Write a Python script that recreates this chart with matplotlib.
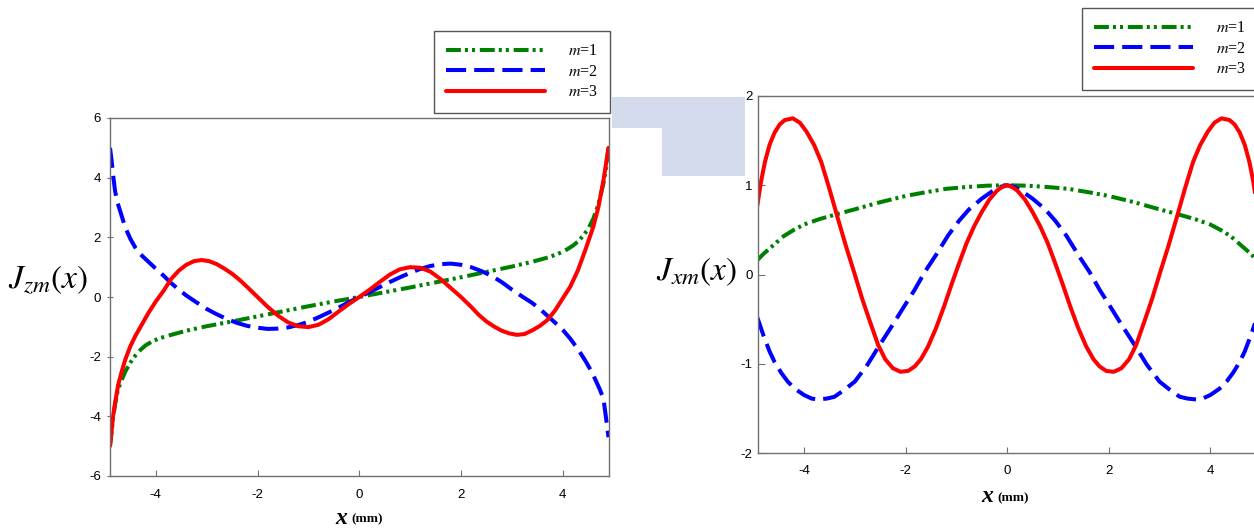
import numpy as np
import matplotlib
matplotlib.use('Agg')
import matplotlib.pyplot as plt
from matplotlib.patches import Polygon

plt.rcParams['font.family'] = ['Liberation Sans', 'DejaVu Sans']
plt.rcParams['mathtext.fontset'] = 'stix'
plt.rcParams['axes.unicode_minus'] = False

############### DATA ###############
# left panel: J_zm(x)
zm1_x = [-4.9, -4.87, -4.84, -4.8, -4.75, -4.7, -4.6, -4.5, -4.4, -4.3, -4.2, -4.05, -3.9, -3.7, -3.4, -3.0, -2.5,
         -2.0, -1.5, -1.0, -0.5, 0.0, 0.5, 1.0, 1.5, 2.0, 2.5, 3.0, 3.4, 3.7, 3.9, 4.05, 4.2, 4.3, 4.4, 4.5, 4.6,
         4.7, 4.75, 4.8, 4.84, 4.87, 4.9]
zm1_y = [-5.0, -4.55, -4.05, -3.6, -3.15, -2.9, -2.5, -2.2, -1.96, -1.77, -1.62, -1.47, -1.37, -1.27, -1.13, -0.98, -0.82,
         -0.65, -0.48, -0.31, -0.15, 0.0, 0.16, 0.32, 0.49, 0.66, 0.84, 1.02, 1.18, 1.32, 1.44, 1.56, 1.72, 1.86, 2.05, 2.28, 2.62,
         3.1, 3.45, 3.8, 4.2, 4.6, 5.0]

zm2_x = [-4.9, -4.87, -4.84, -4.8, -4.75, -4.7, -4.6, -4.5, -4.4, -4.3, -4.15, -4.0, -3.85, -3.7, -3.55, -3.4, -3.2,
         -3.0, -2.8, -2.6, -2.4, -2.2, -2.0, -1.8, -1.6, -1.4, -1.2, -1.0, -0.8, -0.6, -0.4, -0.2, 0.0,
         0.2, 0.4, 0.6, 0.8, 1.0, 1.2, 1.4, 1.6, 1.8, 2.0, 2.2, 2.4, 2.6, 2.8, 3.0, 3.2, 3.4, 3.55, 3.7, 3.85,
         4.0, 4.15, 4.3, 4.45, 4.55, 4.65, 4.73, 4.8, 4.84, 4.87, 4.9]
zm2_y = [5.0, 4.6, 4.1, 3.55, 3.15, 2.88, 2.33, 1.95, 1.65, 1.43, 1.19, 0.95, 0.72, 0.47, 0.25, 0.05, -0.18,
         -0.4, -0.58, -0.74, -0.87, -0.97, -1.03, -1.07, -1.06, -1.02, -0.94, -0.83, -0.68, -0.52, -0.35, -0.17, 0.0,
         0.16, 0.33, 0.5, 0.66, 0.81, 0.94, 1.04, 1.1, 1.12, 1.08, 1.0, 0.87, 0.71, 0.5, 0.25, 0.02, -0.2, -0.4, -0.63, -0.86,
         -1.1, -1.4, -1.75, -2.15, -2.45, -2.8, -3.1, -3.4, -3.9, -4.3, -4.7]

zm3_x = [-4.9, -4.87, -4.84, -4.8, -4.74, -4.67, -4.6, -4.5, -4.4, -4.3, -4.15, -4.0, -3.85, -3.7, -3.55, -3.4, -3.25,
         -3.1, -2.95, -2.8, -2.65, -2.5, -2.35, -2.2, -2.0, -1.8, -1.6, -1.4, -1.2, -1.0, -0.8, -0.6, -0.4, -0.2, 0.0,
         0.2, 0.4, 0.6, 0.8, 1.0, 1.2, 1.4, 1.6, 1.8, 2.0, 2.2, 2.35, 2.5, 2.65, 2.8, 2.95, 3.1, 3.25, 3.4, 3.55,
         3.7, 3.85, 4.0, 4.15, 4.3, 4.45, 4.6, 4.7, 4.8, 4.85, 4.9]
zm3_y = [-5.0, -4.5, -4.0, -3.55, -2.95, -2.5, -2.1, -1.65, -1.3, -1.0, -0.55, -0.15, 0.2, 0.6, 0.88, 1.08, 1.2,
         1.24, 1.2, 1.1, 0.95, 0.78, 0.57, 0.33, 0.0, -0.33, -0.62, -0.85, -0.98, -1.01, -0.93, -0.74, -0.48, -0.23, 0.0,
         0.24, 0.5, 0.75, 0.93, 1.0, 0.98, 0.85, 0.6, 0.3, 0.0, -0.33, -0.6, -0.82, -0.99, -1.13, -1.22, -1.27, -1.24, -1.12, -0.97,
         -0.77, -0.45, -0.05, 0.35, 0.9, 1.6, 2.35, 3.0, 3.9, 4.45, 5.0]

# right panel: J_xm(x), left half (the curves are even)
xm1_x = [-4.92, -4.8, -4.6, -4.4, -4.2, -4.0, -3.7, -3.33, -3.0, -2.5, -2.0, -1.62, -1.2, -0.8, -0.4, 0.0]
xm1_y = [0.16, 0.23, 0.33, 0.43, 0.5, 0.56, 0.62, 0.68, 0.73, 0.81, 0.88, 0.92, 0.96, 0.98, 0.995, 1.0]

xm2_x = [-4.92, -4.8, -4.68, -4.58, -4.45, -4.32, -4.18, -4.0, -3.85, -3.72, -3.55, -3.4, -3.2, -3.0, -2.75,
         -2.51, -2.25, -2.02, -1.82, -1.62, -1.4, -1.16, -0.95, -0.75, -0.5, -0.3, -0.15, 0.0]
xm2_y = [-0.48, -0.68, -0.86, -0.98, -1.1, -1.2, -1.28, -1.35, -1.39, -1.40, -1.39, -1.37, -1.29, -1.20, -1.01,
         -0.79, -0.56, -0.35, -0.17, 0.03, 0.22, 0.44, 0.6, 0.73, 0.85, 0.93, 0.98, 1.0]

xm3_x = [-4.92, -4.85, -4.77, -4.68, -4.58, -4.48, -4.38, -4.22, -4.08, -3.95, -3.8, -3.66, -3.5, -3.33, -3.17,
         -3.0, -2.85, -2.7, -2.54, -2.4, -2.25, -2.1, -1.95, -1.82, -1.7, -1.56, -1.4, -1.25, -1.1, -0.95, -0.8,
         -0.65, -0.5, -0.35, -0.2, -0.1, 0.0]
xm3_y = [0.77, 1.03, 1.26, 1.45, 1.59, 1.68, 1.73, 1.75, 1.7, 1.6, 1.45, 1.26, 0.96, 0.62, 0.31,
         0.0, -0.28, -0.53, -0.79, -0.95, -1.05, -1.09, -1.08, -1.03, -0.95, -0.81, -0.6, -0.37, -0.12, 0.12, 0.35,
         0.54, 0.70, 0.84, 0.94, 0.98, 1.0]

labels = ['$m$=1', '$m$=2', '$m$=3']
xticks = [-4, -2, 0, 2, 4]


def mirror(xs, ys):
    # full curve from the left half of an even curve
    return list(xs) + [-v for v in xs[-2::-1]], list(ys) + list(ys[-2::-1])


############### STYLES ###############
W, H = 1254, 531
lw = 2.9
styles = [dict(color='#008000', lw=lw, ls=(0, (3.7, 1.0, 0.75, 1.0, 0.75, 1.2))),
          dict(color='#0000ff', lw=lw, ls=(0, (5.0, 2.0))),
          dict(color='#ff0000', lw=lw, ls='-')]

fig = plt.figure(figsize=(W / 100, H / 100), dpi=100)

# faint watermark between the panels
for pts in [[(612, 97), (745, 97), (745, 128), (612, 128)],
            [(662, 128), (745, 128), (745, 176), (662, 176)]]:
    fig.patches.append(Polygon([(x / W, 1 - y / H) for x, y in pts], closed=True,
                               transform=fig.transFigure, facecolor='#d3dbec', edgecolor='none', zorder=0))


def px_axes(l, t, r, b):
    return fig.add_axes([l / W, 1 - b / H, (r - l) / W, (b - t) / H])


def style_axes(ax, ytick_dir):
    for s in ax.spines.values():
        s.set_color('#707070')
        s.set_linewidth(1.0)
    ax.tick_params(axis='x', direction='in', length=4, color='#707070', labelsize=9.5, pad=9)
    ax.tick_params(axis='y', direction=ytick_dir, length=5, color='#707070', labelsize=9.5, pad=4)
    ax.set_xticks(xticks)
    ax.set_xticklabels([str(t) for t in xticks])


def make_legend(ax, lines, x0, y0):
    leg = ax.legend(lines, labels, loc='upper left', bbox_to_anchor=(x0 / W, 1 - y0 / H),
                    bbox_transform=fig.transFigure, fancybox=False, frameon=True, framealpha=1,
                    handlelength=6.2, handletextpad=1.4, labelspacing=0.28, borderpad=0.78,
                    borderaxespad=0, prop={'family': 'Liberation Serif', 'size': 11.5})
    leg.get_frame().set_edgecolor('#555555')
    leg.get_frame().set_linewidth(1.0)
    return leg


############### LEFT PANEL ###############
ax1 = px_axes(110, 118, 609, 476)
lines1 = []
for xs, ys, st in zip([zm1_x, zm2_x, zm3_x], [zm1_y, zm2_y, zm3_y], styles):
    ln, = ax1.plot(xs, ys, color=st['color'], lw=st['lw'], ls=st['ls'], dash_capstyle='butt',
                   solid_capstyle='round', solid_joinstyle='round')
    lines1.append(ln)
ax1.set_xlim(-4.9, 4.91)
ax1.set_ylim(-6, 6)
style_axes(ax1, 'inout')
ax1.set_yticks([-6, -4, -2, 0, 2, 4, 6])
ax1.set_yticklabels(['-6', '-4', '-2', '0', '2', '4', '6'])
make_legend(ax1, lines1, 434, 31)

############### RIGHT PANEL ###############
ax2 = px_axes(758, 96, 1256, 453)
lines2 = []
for xs, ys, st in zip([xm1_x, xm2_x, xm3_x], [xm1_y, xm2_y, xm3_y], styles):
    fx, fy = mirror(xs, ys)
    ln, = ax2.plot(fx, fy, color=st['color'], lw=st['lw'], ls=st['ls'], dash_capstyle='butt',
                   solid_capstyle='round', solid_joinstyle='round')
    lines2.append(ln)
ax2.set_xlim(-4.906, 4.9)
ax2.set_ylim(-2, 2)
style_axes(ax2, 'in')
ax2.set_yticks([-2, -1, 0, 1, 2])
ax2.set_yticklabels(['-2', '-1', '0', '1', '2'])
make_legend(ax2, lines2, 1082, 8)

############### AXIS TITLES ###############
fig.text(48 / W, 1 - 280 / H, r'$J_{zm}(x)$', fontsize=24, ha='center', va='center')
fig.text(697 / W, 1 - 272 / H, r'$J_{xm}(x)$', fontsize=24, ha='center', va='center')

for cx, cy in [(347, 518), (993, 497)]:
    fig.text(cx / W, 1 - cy / H, 'x', fontsize=17, family='Liberation Serif', style='italic',
             weight='bold', ha='right', va='center')
    fig.text((cx + 4) / W, 1 - (cy + 1) / H, '(mm)', fontsize=9.5, family='Liberation Serif',
             weight='bold', ha='left', va='center')

fig.savefig('out.png', dpi=100)
